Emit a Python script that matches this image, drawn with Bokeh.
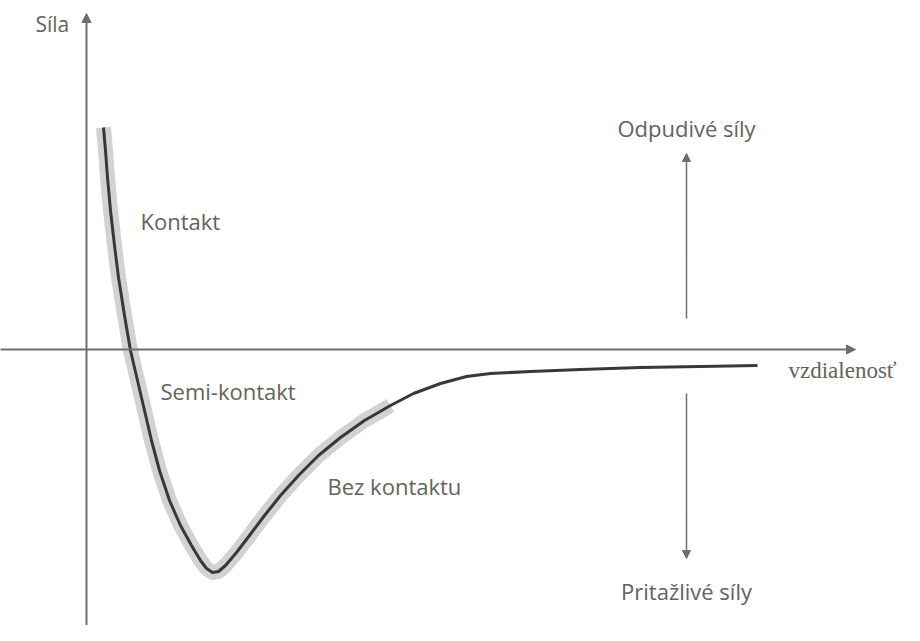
from bokeh.plotting import figure
from bokeh.models import Range1d, Label, Arrow, NormalHead
from bokeh.embed import file_html
from bokeh.resources import INLINE

# Curve (distance, force), arbitrary units
distance = [17, 19, 21, 24, 28, 32, 38, 44, 51, 58, 65, 73, 83, 94, 105, 114,
            120, 126, 132, 139, 150, 163, 178, 194, 212, 232, 254, 278, 304,
            327, 354, 380, 404, 444, 494, 554, 614, 671]
force = [222, 199, 172, 139, 104, 72, 34, -1, -31, -61, -91, -121, -151, -176,
         -196, -211, -219, -223, -222, -216, -203, -186, -166, -146, -126,
         -106, -88, -71, -56, -44, -34, -27, -24, -22, -20, -18, -17, -16]
band_points = 29  # grey highlight covers the first points of the curve

region_labels = ["Kontakt", "Semi-kontakt", "Bez kontaktu"]
axis_labels = ["Síla", "vzdialenosť"]
force_labels = ["Odpudivé síly", "Pritažlivé síly"]

SANS = "Open Sans"
SERIF = "Liberation Serif"
TXT = "#626262"
AX = "#6e6e6e"

p = figure(width=904, height=625, output_backend="svg", toolbar_location=None,
           x_range=Range1d(-86, 818), y_range=Range1d(-276, 349),
           x_axis_type=None, y_axis_type=None, min_border=0)
p.grid.visible = False
p.outline_line_color = None
p.background_fill_color = "white"
p.border_fill_color = "white"

# axes
p.add_layout(Arrow(x_start=0, y_start=-300, x_end=0, y_end=336,
                   line_color=AX, line_width=2,
                   end=NormalHead(size=9, fill_color=AX, line_color=AX)))
p.add_layout(Arrow(x_start=-90, y_start=0, x_end=769, y_end=0,
                   line_color=AX, line_width=2,
                   end=NormalHead(size=9, fill_color=AX, line_color=AX)))

# grey band + curve
p.line(distance[:band_points], force[:band_points], line_color="#d2d2d2",
       line_width=15, line_join="round", line_cap="butt")
p.line(distance, force, line_color="#383838", line_width=3, line_join="round")

# force direction arrows
p.add_layout(Arrow(x_start=600, y_start=31, x_end=600, y_end=196,
                   line_color=AX, line_width=1.5,
                   end=NormalHead(size=8, fill_color=AX, line_color=AX)))
p.add_layout(Arrow(x_start=600, y_start=-44, x_end=600, y_end=-209,
                   line_color=AX, line_width=1.5,
                   end=NormalHead(size=8, fill_color=AX, line_color=AX)))

def lab(x, y, t, align="left", font=SANS, size="22px"):
    p.add_layout(Label(x=x, y=y, text=t, text_align=align, text_baseline="middle",
                       text_font=font, text_font_size=size, text_color=TXT))

lab(-51, 326, axis_labels[0], size="21px")
lab(702, -21, axis_labels[1], font=SERIF, size="23px")
lab(54, 129, region_labels[0])
lab(74, -41, region_labels[1])
lab(241, -136, region_labels[2])
lab(600, 222, force_labels[0], align="center")
lab(600, -241, force_labels[1], align="center")

open("out.html", "w").write(file_html(p, INLINE))
